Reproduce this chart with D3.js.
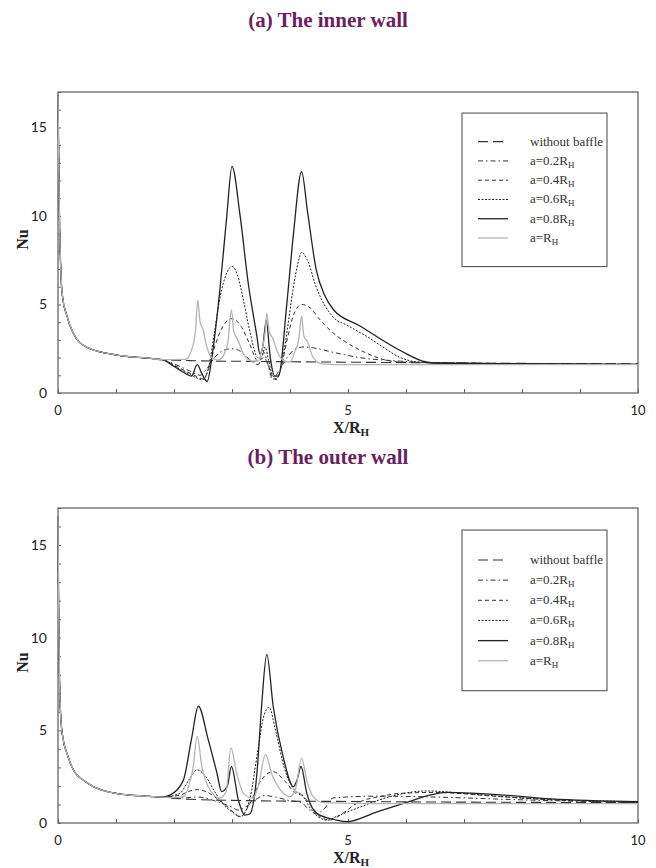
<!DOCTYPE html>
<html>
<head>
<meta charset="utf-8">
<script src="https://cdn.jsdelivr.net/npm/d3@7"></script>
<style>
  body { margin: 0; background: #fff; }
  svg { display: block; }
</style>
</head>
<body>
<div id="chart"></div>
<script>
// axis ticks
const xTicks = [0, 1, 2, 3, 4, 5, 6, 7, 8, 9, 10];
const xTickLabels = [0, 5, 10];
const yTicks = d3.range(0, 18, 1);
const yTickLabels = [0, 5, 10, 15];

const seriesKeys = ["none", "a02", "a04", "a06", "a08", "aR"];
const legendLabels = [
  ["without baffle", ""],
  ["a=0.2R", "H"],
  ["a=0.4R", "H"],
  ["a=0.6R", "H"],
  ["a=0.8R", "H"],
  ["a=R", "H"]
];

// (a) inner wall, [X/R_H, Nu]
const innerEntrance = [[0, 16.8], [0.01, 14], [0.025, 10], [0.05, 6.8], [0.08, 5.4], [0.15, 4.4], [0.26, 3.4], [0.49, 2.6], [1.0, 2.15], [1.6, 1.95], [1.8, 1.88]];
const innerNone = [[2.4, 1.82], [3.5, 1.78], [5, 1.74], [7.5, 1.68], [10, 1.65]];
const inner02 = [[2.1, 1.5], [2.3, 1.2], [2.45, 1.0], [2.55, 1.3], [2.7, 2.0], [2.85, 2.4], [3.0, 2.5], [3.15, 2.35], [3.3, 1.9], [3.45, 1.6], [3.55, 2.3], [3.62, 1.6], [3.7, 0.75], [3.8, 1.2], [3.95, 2.0], [4.1, 2.5], [4.25, 2.6], [4.4, 2.55], [4.74, 2.3], [5.2, 2.0], [5.9, 1.8], [6.5, 1.7], [10, 1.62]];
const inner04 = [[2.1, 1.4], [2.35, 1.0], [2.5, 0.8], [2.6, 1.4], [2.7, 2.6], [2.85, 3.8], [3.0, 4.2], [3.15, 3.8], [3.3, 2.8], [3.45, 1.8], [3.55, 2.0], [3.62, 1.6], [3.7, 0.9], [3.76, 0.75], [3.85, 1.5], [3.95, 3.0], [4.05, 4.3], [4.2, 5.0], [4.35, 4.8], [4.5, 4.2], [4.74, 3.4], [5.0, 2.8], [5.32, 2.25], [5.6, 1.9], [5.9, 1.75], [10, 1.62]];
const inner06 = [[2.1, 1.35], [2.3, 1.0], [2.5, 0.75], [2.6, 1.5], [2.7, 3.5], [2.8, 5.5], [2.9, 6.7], [3.0, 7.15], [3.1, 6.6], [3.2, 5.2], [3.3, 3.6], [3.45, 2.0], [3.52, 2.1], [3.57, 2.6], [3.62, 2.0], [3.7, 1.0], [3.77, 0.8], [3.85, 1.5], [3.95, 3.5], [4.05, 5.8], [4.15, 7.5], [4.2, 7.95], [4.3, 7.5], [4.45, 6.0], [4.74, 4.3], [5.0, 3.8], [5.32, 3.2], [5.6, 2.6], [5.9, 2.0], [6.2, 1.75], [6.5, 1.7], [10, 1.62]];
const inner08 = [[2.0, 1.5], [2.2, 1.1], [2.3, 0.95], [2.4, 1.6], [2.48, 1.1], [2.57, 0.65], [2.67, 2.4], [2.79, 5.8], [2.91, 10], [3.0, 12.8], [3.14, 10], [3.28, 6.2], [3.43, 3.2], [3.48, 2.2], [3.53, 2.6], [3.59, 4.1], [3.66, 2.0], [3.74, 0.95], [3.8, 0.95], [3.95, 5.2], [4.06, 9.0], [4.2, 12.5], [4.3, 10.3], [4.45, 7.0], [4.6, 5.5], [4.75, 4.7], [5.2, 3.8], [5.9, 2.4], [6.35, 1.75], [6.6, 1.68], [10, 1.62]];
const innerR = [[2.2, 1.9], [2.3, 2.4], [2.37, 3.5], [2.41, 5.25], [2.45, 4.0], [2.5, 3.6], [2.55, 2.8], [2.65, 2.0], [2.75, 1.85], [2.85, 2.1], [2.93, 2.9], [2.99, 4.7], [3.03, 3.5], [3.1, 3.0], [3.2, 2.2], [3.35, 1.8], [3.45, 1.8], [3.52, 2.5], [3.57, 3.4], [3.6, 4.5], [3.64, 3.5], [3.7, 3.1], [3.8, 2.2], [3.9, 1.8], [4.0, 1.75], [4.08, 2.3], [4.15, 3.0], [4.2, 4.35], [4.24, 3.2], [4.3, 2.9], [4.4, 2.0], [4.55, 1.65], [5, 1.6], [10, 1.6]];

// (b) outer wall, [X/R_H, Nu]
const outerEntrance = [[0, 16.5], [0.01, 12], [0.025, 8], [0.05, 5.6], [0.09, 4.5], [0.15, 3.8], [0.26, 2.9], [0.49, 2.2], [1.0, 1.6], [1.5, 1.45], [1.8, 1.4]];
const outerNone = [[2.0, 1.33], [3.0, 1.22], [5, 1.16], [7.5, 1.12], [10, 1.1]];
const outer02 = [[2.1, 1.35], [2.4, 1.4], [2.7, 1.2], [3.0, 0.85], [3.1, 0.7], [3.3, 1.0], [3.45, 1.35], [3.57, 1.48], [3.75, 1.4], [4.0, 1.2], [4.2, 1.1], [4.3, 0.8], [4.45, 0.5], [4.6, 0.8], [4.74, 1.35], [5.5, 1.45], [6.5, 1.4], [8, 1.25], [10, 1.1]];
const outer04 = [[2.1, 1.5], [2.25, 1.7], [2.4, 1.8], [2.55, 1.7], [2.73, 1.35], [2.95, 0.8], [3.14, 0.34], [3.3, 1.0], [3.5, 2.3], [3.71, 2.77], [3.9, 2.3], [4.1, 1.6], [4.2, 1.5], [4.35, 1.0], [4.52, 0.34], [4.69, 0.16], [4.9, 0.5], [5.15, 1.06], [5.61, 1.46], [5.9, 1.6], [6.5, 1.65], [7.5, 1.45], [8.5, 1.25], [10, 1.12]];
const outer06 = [[2.1, 1.6], [2.25, 2.3], [2.4, 2.86], [2.55, 2.5], [2.7, 1.7], [2.85, 1.0], [3.0, 0.6], [3.15, 0.35], [3.3, 1.2], [3.45, 4.0], [3.55, 5.8], [3.64, 6.25], [3.75, 5.0], [3.9, 3.0], [4.1, 1.7], [4.2, 1.55], [4.35, 0.8], [4.5, 0.3], [4.65, 0.15], [4.8, 0.35], [5.2, 0.85], [5.7, 1.4], [6.36, 1.73], [7, 1.6], [8, 1.35], [10, 1.15]];
const outer08 = [[1.93, 1.5], [2.16, 2.3], [2.3, 4.5], [2.42, 6.3], [2.59, 4.5], [2.74, 2.7], [2.82, 1.7], [2.92, 2.0], [2.99, 3.05], [3.11, 1.24], [3.22, 0.43], [3.31, 0.5], [3.43, 2.7], [3.51, 6.3], [3.6, 9.1], [3.71, 6.3], [3.88, 3.6], [4.06, 1.96], [4.12, 2.3], [4.19, 3.05], [4.29, 1.6], [4.46, 0.52], [4.8, 0.16], [4.98, 0.07], [5.5, 0.6], [6.0, 1.1], [6.41, 1.5], [6.7, 1.65], [7.5, 1.55], [8.5, 1.3], [10, 1.15]];
const outerR = [[2.0, 1.37], [2.16, 1.42], [2.25, 1.96], [2.33, 3.0], [2.4, 4.67], [2.48, 3.05], [2.59, 1.96], [2.79, 1.35], [2.9, 1.7], [2.98, 4.05], [3.08, 2.7], [3.2, 1.6], [3.36, 1.35], [3.45, 1.96], [3.58, 3.7], [3.68, 2.7], [3.83, 1.8], [4.0, 1.42], [4.1, 1.9], [4.2, 3.5], [4.29, 2.3], [4.4, 1.42], [4.57, 1.1], [5.5, 1.05], [10, 1.05]];

const styles = {
  none: { stroke: "#333", width: 1.1, dash: "10,5" },
  a02: { stroke: "#333", width: 1, dash: "5,3,1.5,3" },
  a04: { stroke: "#333", width: 1, dash: "4,3" },
  a06: { stroke: "#222", width: 1, dash: "2,1.5" },
  a08: { stroke: "#222", width: 1.3, dash: null },
  aR: { stroke: "#b4b4b4", width: 1.3, dash: null }
};
const drawOrder = ["none", "a02", "a04", "a06", "a08", "aR"];

const width = 656;
const height = 868;
const titleColor = "#6b1f62";
const serif = "'Liberation Serif', 'DejaVu Serif', serif";
const sans = "Lato, 'Open Sans', sans-serif";

const svg = d3.select("#chart").append("svg")
  .attr("width", width)
  .attr("height", height);

svg.append("rect").attr("width", width).attr("height", height).attr("fill", "#fff");

function drawPanel(panel) {
  const x = d3.scaleLinear().domain([0, 10]).range([58, 638]);
  const y = d3.scaleLinear().domain([0, 17]).range([panel.bottom, panel.top]);
  const g = svg.append("g");
  const h = panel.bottom - panel.top;

  g.append("text")
    .attr("x", 328)
    .attr("y", panel.titleY)
    .attr("text-anchor", "middle")
    .attr("font-family", serif)
    .attr("font-weight", "bold")
    .attr("font-size", 21)
    .attr("fill", titleColor)
    .text(panel.title);

  // ticks point into the plot
  g.append("g")
    .attr("transform", `translate(0,${panel.bottom})`)
    .call(d3.axisTop(x).tickValues(xTicks).tickSize(4).tickFormat(""))
    .call((s) => s.select(".domain").remove())
    .selectAll("line").attr("stroke", "#666");

  g.append("g")
    .attr("transform", "translate(58,0)")
    .call(d3.axisRight(y).tickValues(yTicks).tickSize(3).tickFormat(""))
    .call((s) => s.select(".domain").remove())
    .selectAll("line").attr("stroke", "#666");

  g.append("rect")
    .attr("x", x(0))
    .attr("y", y(17))
    .attr("width", x(10) - x(0))
    .attr("height", y(0) - y(17))
    .attr("fill", "none")
    .attr("stroke", "#666")
    .attr("stroke-width", 1.3);

  g.selectAll(".xlab")
    .data(xTickLabels)
    .join("text")
    .attr("x", (d) => x(d))
    .attr("y", panel.bottom + 22)
    .attr("text-anchor", "middle")
    .attr("font-family", sans)
    .attr("font-size", 13)
    .attr("fill", "#222")
    .text((d) => d);

  g.selectAll(".ylab")
    .data(yTickLabels)
    .join("text")
    .attr("x", 47)
    .attr("y", (d) => y(d) + 5)
    .attr("text-anchor", "end")
    .attr("font-family", sans)
    .attr("font-size", 14)
    .attr("fill", "#222")
    .text((d) => d);

  const xt = g.append("text")
    .attr("x", 351)
    .attr("y", panel.bottom + 40)
    .attr("text-anchor", "middle")
    .attr("font-family", serif)
    .attr("font-weight", "bold")
    .attr("font-size", 16)
    .attr("fill", "#222");
  xt.append("tspan").text("X/R");
  xt.append("tspan").attr("font-size", 11).attr("dy", 3).text("H");

  g.append("text")
    .attr("transform", `translate(28,${(panel.top + panel.bottom) / 2 - 3}) rotate(-90)`)
    .attr("text-anchor", "middle")
    .attr("font-family", serif)
    .attr("font-weight", "bold")
    .attr("font-size", 16)
    .attr("fill", "#222")
    .text("Nu");

  const line = d3.line()
    .x((d) => x(d[0]))
    .y((d) => y(d[1]))
    .curve(d3.curveMonotoneX);

  drawOrder.forEach((key) => {
    const st = styles[key];
    g.append("path")
      .datum(panel.entrance.concat(panel.series[key]))
      .attr("d", line)
      .attr("fill", "none")
      .attr("stroke", st.stroke)
      .attr("stroke-width", st.width)
      .attr("stroke-dasharray", st.dash)
      .attr("stroke-linejoin", "round");
  });

  // legend
  const lg = g.append("g");
  const boxTop = panel.top + 0.07 * h;
  const boxBottom = panel.top + 0.58 * h;
  const rowY0 = panel.top + 0.165 * h;
  const rowStep = 0.064 * h;

  lg.append("rect")
    .attr("x", 462)
    .attr("y", boxTop)
    .attr("width", 145)
    .attr("height", boxBottom - boxTop)
    .attr("fill", "#fff")
    .attr("stroke", "#555")
    .attr("stroke-width", 1.1);

  seriesKeys.forEach((key, i) => {
    const st = styles[key];
    const ry = rowY0 + i * rowStep;
    lg.append("line")
      .attr("x1", 478).attr("x2", 508)
      .attr("y1", ry).attr("y2", ry)
      .attr("stroke", st.stroke)
      .attr("stroke-width", st.width)
      .attr("stroke-dasharray", st.dash);
    const t = lg.append("text")
      .attr("x", 530)
      .attr("y", ry + 4)
      .attr("font-family", serif)
      .attr("font-size", 13)
      .attr("fill", "#333");
    t.append("tspan").text(legendLabels[i][0]);
    if (legendLabels[i][1]) {
      t.append("tspan").attr("font-size", 9).attr("dy", 3).text(legendLabels[i][1]);
    }
  });
}

drawPanel({
  title: "(a) The inner wall",
  titleY: 27,
  top: 92,
  bottom: 393,
  entrance: innerEntrance,
  series: { none: innerNone, a02: inner02, a04: inner04, a06: inner06, a08: inner08, aR: innerR }
});

drawPanel({
  title: "(b) The outer wall",
  titleY: 464,
  top: 508,
  bottom: 823,
  entrance: outerEntrance,
  series: { none: outerNone, a02: outer02, a04: outer04, a06: outer06, a08: outer08, aR: outerR }
});
</script>
</body>
</html>
